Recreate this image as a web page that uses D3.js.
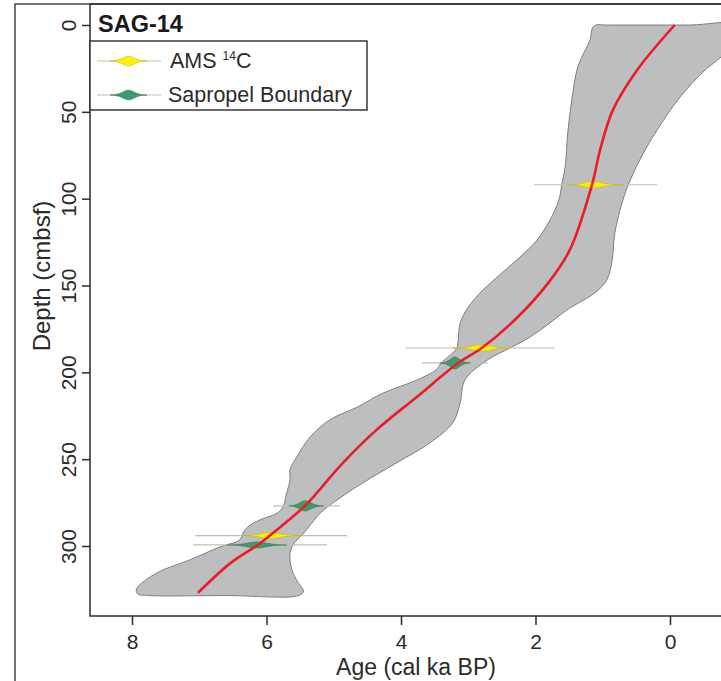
<!DOCTYPE html>
<html>
<head>
<meta charset="utf-8">
<script src="https://cdn.jsdelivr.net/npm/d3@7"></script>
<style>
  body { margin: 0; background: #fff; }
  svg { display: block; font-family: "Liberation Sans", Arial, sans-serif; }
</style>
</head>
<body>
<div id="chart"></div>
<script>
// tick values
var ageTicks = [8, 6, 4, 2, 0];
var depthTicks = [0, 50, 100, 150, 200, 250, 300];

// age-depth model: median (depth cm, age ka)
var medianCurve = [[0,-0.07],[26,0.49],[49,0.85],[72,1.04],[92,1.16],[129.5,1.49],[148.5,1.81],
  [168,2.26],[186,2.80],[194.6,3.15],[214,3.76],[233,4.36],[252,4.86],[272,5.31],[277,5.43],
  [294,5.95],[299.4,6.13],[310,6.54],[327,7.02]];

// uncertainty envelope, old side (top -> bottom)
var bandOld = [[0,1.10],[1.5,1.15],[8.6,1.19],[24,1.37],[43,1.46],[62,1.52],[82,1.56],[92,1.61],[99,1.64],
  [106.5,1.71],[114,1.81],[124,1.98],[133.6,2.23],[142.8,2.50],[152.6,2.78],[162.4,3.00],[171.6,3.12],
  [181.3,3.15],[186,3.17],[194.6,3.40],[198.6,3.48],[204.4,3.76],[212,4.27],[220,4.65],[227.4,5.06],
  [237.2,5.35],[248.7,5.55],[256,5.65],[262,5.65],[269.4,5.70],[277,5.75],[281,5.84],[285,6.10],
  [289,6.28],[292.5,6.35],[296.5,6.40],[300.5,6.69],[308,7.14],[315.5,7.63],[324.5,7.93],[327.5,7.92]];

// uncertainty envelope, young side (bottom -> top)
var bandYoung = [[328.5,7.75],[328.5,6.6],[328.5,5.52],[326,5.45],[321,5.53],[314,5.62],[304,5.65],[298,5.58],
  [293.6,5.47],[287,5.33],[281,5.20],[273.5,4.95],[263.7,4.57],[252,4.06],[240.6,3.57],[229,3.23],
  [217.6,3.12],[204.4,3.05],[193,2.72],[186,2.38],[179.6,2.08],[172,1.80],[164,1.53],[154.3,1.12],
  [146.8,0.94],[135.3,0.86],[119.7,0.82],[100.7,0.70],[92,0.62],[77.7,0.45],[60.4,0.19],[41.5,-0.15],
  [26,-0.52],[18.4,-0.76],[11.5,-0.9],[0,-1.0],[0,-0.3],[0,0.4],[0,0.95]];

// AMS 14C dates
var amsDepth = [92, 186, 294];
var amsAge = [1.16, 2.80, 5.95];
var amsRange = [[2.02, 0.19], [3.94, 1.71], [7.06, 4.80]];
var amsCore = [[1.52, 0.70], [3.23, 2.38], [6.36, 5.47]];

// sapropel boundaries
var sapDepth = [194.6, 276.9, 299.4];
var sapAge = [3.20, 5.43, 6.14];
var sapRange = [[3.69, 2.71], [5.90, 4.91], [7.09, 5.10]];
var sapCore = [[3.42, 2.97], [5.67, 5.15], [6.59, 5.70]];

var legendLabels = ["AMS", "Sapropel Boundary"];

var W = 721, H = 681;
var plotL = 90, plotT = 4, plotR = 745, plotB = 616;

var svg = d3.select("#chart").append("svg")
  .attr("width", W).attr("height", H);

var x = d3.scaleLinear().domain([8, 0]).range([132, 670]);
var y = d3.scaleLinear().domain([0, 300]).range([25, 546]);

svg.append("defs").append("clipPath").attr("id", "clip")
  .append("rect").attr("x", plotL).attr("y", plotT)
  .attr("width", plotR - plotL).attr("height", plotB - plotT);

// outer frame
svg.append("rect")
  .attr("x", 15).attr("y", 4).attr("width", W).attr("height", H)
  .attr("fill", "none").attr("stroke", "#3a3a3a").attr("stroke-width", 1.4);

var g = svg.append("g").attr("clip-path", "url(#clip)");

// envelope
var ring = bandOld.concat(bandYoung);
g.append("path")
  .attr("d", d3.line()
    .x(function(d) { return x(d[1]); })
    .y(function(d) { return y(d[0]); })
    .curve(d3.curveCatmullRomClosed.alpha(0.5))(ring))
  .attr("fill", "#bcbec0")
  .attr("stroke", "#7d7f82")
  .attr("stroke-width", 1);

function bell(l, c, r, yy) {
  var h = 360 / (r - l) / 2;
  var a = c - l, b = r - c;
  return "M" + l + "," + yy +
    "C" + (l + a * 0.6) + "," + yy + " " + (c - a * 0.25) + "," + (yy - h) + " " + c + "," + (yy - h) +
    "C" + (c + b * 0.25) + "," + (yy - h) + " " + (r - b * 0.6) + "," + yy + " " + r + "," + yy +
    "C" + (r - b * 0.6) + "," + yy + " " + (c + b * 0.25) + "," + (yy + h) + " " + c + "," + (yy + h) +
    "C" + (c - a * 0.25) + "," + (yy + h) + " " + (l + a * 0.6) + "," + yy + " " + l + "," + yy + "Z";
}

function drawMarkers(depths, ages, ranges, cores, fill, stroke) {
  depths.forEach(function(dp, i) {
    g.append("line")
      .attr("x1", x(ranges[i][0])).attr("x2", x(ranges[i][1]))
      .attr("y1", y(dp)).attr("y2", y(dp))
      .attr("stroke", "#c2c1ad").attr("stroke-width", 1.2);
  });
  depths.forEach(function(dp, i) {
    g.append("path")
      .attr("d", bell(x(cores[i][0]), x(ages[i]), x(cores[i][1]), y(dp)))
      .attr("fill", fill).attr("stroke", stroke).attr("stroke-width", 0.6);
  });
}
drawMarkers(amsDepth, amsAge, amsRange, amsCore, "#fff200", "#c9b800");
drawMarkers(sapDepth, sapAge, sapRange, sapCore, "#3f9a6e", "#2e7a55");

// median line
g.append("path")
  .datum(medianCurve)
  .attr("fill", "none")
  .attr("stroke", "#ec1c24")
  .attr("stroke-width", 2.6)
  .attr("d", d3.line()
    .x(function(d) { return x(d[1]); })
    .y(function(d) { return y(d[0]); })
    .curve(d3.curveCatmullRom.alpha(0.5)));

// plot frame
svg.append("rect")
  .attr("x", plotL).attr("y", plotT)
  .attr("width", plotR - plotL).attr("height", plotB - plotT)
  .attr("fill", "none").attr("stroke", "#2b2b2b").attr("stroke-width", 1.5);

// axes
var xAxis = svg.append("g")
  .attr("transform", "translate(0," + plotB + ")")
  .call(d3.axisBottom(x).tickValues(ageTicks).tickSize(9).tickSizeOuter(0).tickFormat(d3.format("d")));
xAxis.select(".domain").remove();
xAxis.selectAll("line").attr("stroke", "#2b2b2b").attr("stroke-width", 1.5);
xAxis.selectAll("text")
  .attr("y", 33).attr("dy", 0)
  .attr("fill", "#2b2b2b")
  .style("font-size", "21px")
  .style("font-family", "'Liberation Sans', Arial, sans-serif");

var yAxis = svg.append("g")
  .attr("transform", "translate(" + plotL + ",0)")
  .call(d3.axisLeft(y).tickValues(depthTicks).tickSize(8).tickSizeOuter(0));
yAxis.select(".domain").remove();
yAxis.selectAll("line").attr("stroke", "#2b2b2b").attr("stroke-width", 1.5);
yAxis.selectAll("text")
  .attr("x", 0).attr("dy", 0)
  .attr("transform", "translate(-14,0) rotate(-90)")
  .attr("text-anchor", "middle")
  .attr("fill", "#2b2b2b")
  .style("font-size", "21px")
  .style("font-family", "'Liberation Sans', Arial, sans-serif");

// axis titles
svg.append("text")
  .attr("x", 416).attr("y", 675)
  .attr("text-anchor", "middle")
  .attr("fill", "#2b2b2b")
  .style("font-size", "23px")
  .text("Age (cal ka BP)");

svg.append("text")
  .attr("transform", "translate(50,276) rotate(-90)")
  .attr("text-anchor", "middle")
  .attr("fill", "#2b2b2b")
  .style("font-size", "24px")
  .text("Depth (cmbsf)");

// core title
svg.append("text")
  .attr("x", 98).attr("y", 32)
  .attr("fill", "#1a1a1a")
  .style("font-size", "23.5px")
  .style("font-weight", "bold")
  .text("SAG-14");

// legend
var lg = svg.append("g");
lg.append("rect")
  .attr("x", plotL).attr("y", 41).attr("width", 277).attr("height", 69)
  .attr("fill", "#fff").attr("stroke", "#2b2b2b").attr("stroke-width", 1.4);

var legRows = [
  { y: 61, fill: "#fff200", stroke: "#c9b800" },
  { y: 95, fill: "#3f9a6e", stroke: "#2e7a55" }
];
legRows.forEach(function(r, i) {
  lg.append("line")
    .attr("x1", 97).attr("x2", 161).attr("y1", r.y).attr("y2", r.y)
    .attr("stroke", "#c2c1ad").attr("stroke-width", 1.2);
  lg.append("path")
    .attr("d", bell(110, 128.5, 147, r.y))
    .attr("fill", r.fill).attr("stroke", r.stroke).attr("stroke-width", 0.6);
});

var t1 = lg.append("text")
  .attr("x", 170).attr("y", 68)
  .attr("fill", "#2b2b2b")
  .style("font-size", "21.5px");
t1.append("tspan").text(legendLabels[0] + " ");
t1.append("tspan").attr("dy", -8).style("font-size", "12px").text("14");
t1.append("tspan").attr("dy", 8).text("C");

lg.append("text")
  .attr("x", 168).attr("y", 102)
  .attr("fill", "#2b2b2b")
  .style("font-size", "21.5px")
  .text(legendLabels[1]);
</script>
</body>
</html>
